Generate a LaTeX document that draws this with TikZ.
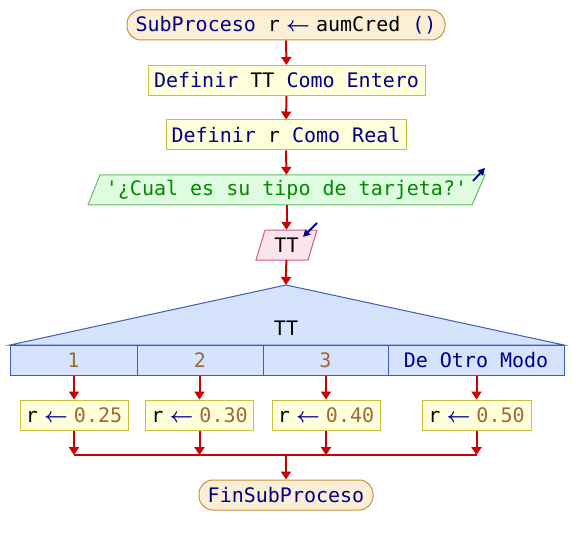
\documentclass[tikz,border=0pt]{standalone}
\usepackage{fontspec}
\setmainfont{DejaVu Sans Mono}
\usetikzlibrary{arrows.meta}
\definecolor{kwc}{HTML}{00008C}
\definecolor{numcol}{HTML}{9C6A34}
\definecolor{strcol}{HTML}{008A00}
\definecolor{flowc}{HTML}{CC0000}
\definecolor{termf}{HTML}{FDEFD6}
\definecolor{termb}{HTML}{CC8F3C}
\definecolor{procf}{HTML}{FFFFDC}
\definecolor{procb}{HTML}{C8C03C}
\definecolor{outf}{HTML}{E0FCE0}
\definecolor{outb}{HTML}{5FBF5F}
\definecolor{inf}{HTML}{FCE4EE}
\definecolor{inb}{HTML}{CC5C88}
\definecolor{swf}{HTML}{D6E3FC}
\definecolor{swb}{HTML}{3C5CC0}
\newcommand\kwd[1]{\textcolor{kwc}{#1}}
\newcommand\numc[1]{\textcolor{numcol}{#1}}
\newcommand\strc[1]{\textcolor{strcol}{#1}}
\newcommand\asg{\textcolor{kwc}{\makebox[12pt]{\boldmath$\leftarrow$}}}
\begin{document}
\begin{tikzpicture}[x=1pt,y=-1pt,
  font=\fontsize{20}{24}\selectfont,
  term/.style={draw=termb, fill=termf, rounded corners=14pt, minimum height=30pt, inner sep=0pt, line width=1pt},
  proc/.style={draw=procb, fill=procf, minimum height=30pt, inner sep=0pt, line width=1pt},
  txt/.style={minimum height=30pt, inner sep=0pt},
  outshape/.style={draw=outb, fill=outf, line width=1pt},
  inshape/.style={draw=inb, fill=inf, line width=1pt},
  swshape/.style={draw=swb, fill=swf, line width=1pt},
  cell/.style={draw=swb, fill=swf, line width=1pt, minimum height=30pt, inner sep=0pt},
  flow/.style={draw=flowc, line width=2pt, -{Triangle[width=10pt,length=8pt]}},
  flowline/.style={draw=flowc, line width=2pt},
  ioarrow/.style={draw=kwc, line width=1.8pt, -{Triangle[width=7pt,length=7pt]}}]
\useasboundingbox (0,0) rectangle (572,545);

% start
\node[term, minimum width=318pt] (start) at (286,25) {\kwd{SubProceso} r \asg{} aumCred \kwd{()}};
\node[proc, minimum width=277pt] (d1) at (286.5,80.5) {\kwd{Definir} TT \kwd{Como Entero}};
\node[proc, minimum width=240pt] (d2) at (286,135) {\kwd{Definir} r \kwd{Como Real}};

% output
\path[outshape] (88,205) -- (100,175) -- (485,175) -- (472,205) -- cycle;
\node[txt, minimum width=370pt] (out) at (286.5,190) {\strc{\textquotesingle¿Cual es su tipo de tarjeta?\textquotesingle}};
\coordinate (oa1) at (473,181);
\coordinate (oa2) at (485,168);
\draw[ioarrow] (oa1) -- (oa2);

% input
\path[inshape] (256,260) -- (265,230) -- (317,230) -- (308,260) -- cycle;
\node[txt, minimum width=40pt] (in) at (286.5,245) {TT};
\coordinate (ia1) at (317,223);
\coordinate (ia2) at (303,237);
\draw[ioarrow] (ia1) -- (ia2);

% switch
\coordinate (apex) at (286,285);
\path[swshape] (apex) -- (10,345) -- (564,345) -- cycle;
\node[inner sep=0pt] (swl) at (286,328) {TT};
\node[cell, minimum width=127pt] (c1) at (73.5,360) {\numc{1}};
\node[cell, minimum width=126pt] (c2) at (200,360) {\numc{2}};
\node[cell, minimum width=125pt] (c3) at (325.5,360) {\numc{3}};
\node[cell, minimum width=176pt] (c4) at (476,360) {\kwd{De Otro Modo}};

% cases
\node[proc, minimum width=108pt] (b1) at (74,415) {r \asg{} \numc{0.25}};
\node[proc, minimum width=108pt] (b2) at (199.5,415) {r \asg{} \numc{0.30}};
\node[proc, minimum width=108pt] (b3) at (326,415) {r \asg{} \numc{0.40}};
\node[proc, minimum width=109pt] (b4) at (476.5,415) {r \asg{} \numc{0.50}};

% end
\node[term, minimum width=174pt] (fin) at (286,495) {\kwd{FinSubProceso}};
\coordinate (j) at (286,455);

% flow
\draw[flow] (start) -- (d1);
\draw[flow] (d1) -- (d2);
\draw[flow] (d2) -- (out);
\draw[flow] (out) -- (in);
\draw[flow] (in) -- (apex);
\draw[flow] (b1.north |- c1.south) -- (b1.north);
\draw[flow] (b2.north |- c2.south) -- (b2.north);
\draw[flow] (b3.north |- c3.south) -- (b3.north);
\draw[flow] (b4.north |- c4.south) -- (b4.north);
\draw[flowline] (b1.south |- j) -- (b4.south |- j);
\draw[flow] (b1.south) -- (b1.south |- j);
\draw[flow] (b2.south) -- (b2.south |- j);
\draw[flow] (b3.south) -- (b3.south |- j);
\draw[flow] (b4.south) -- (b4.south |- j);
\draw[flow] (j) -- (fin);
\end{tikzpicture}
\end{document}
